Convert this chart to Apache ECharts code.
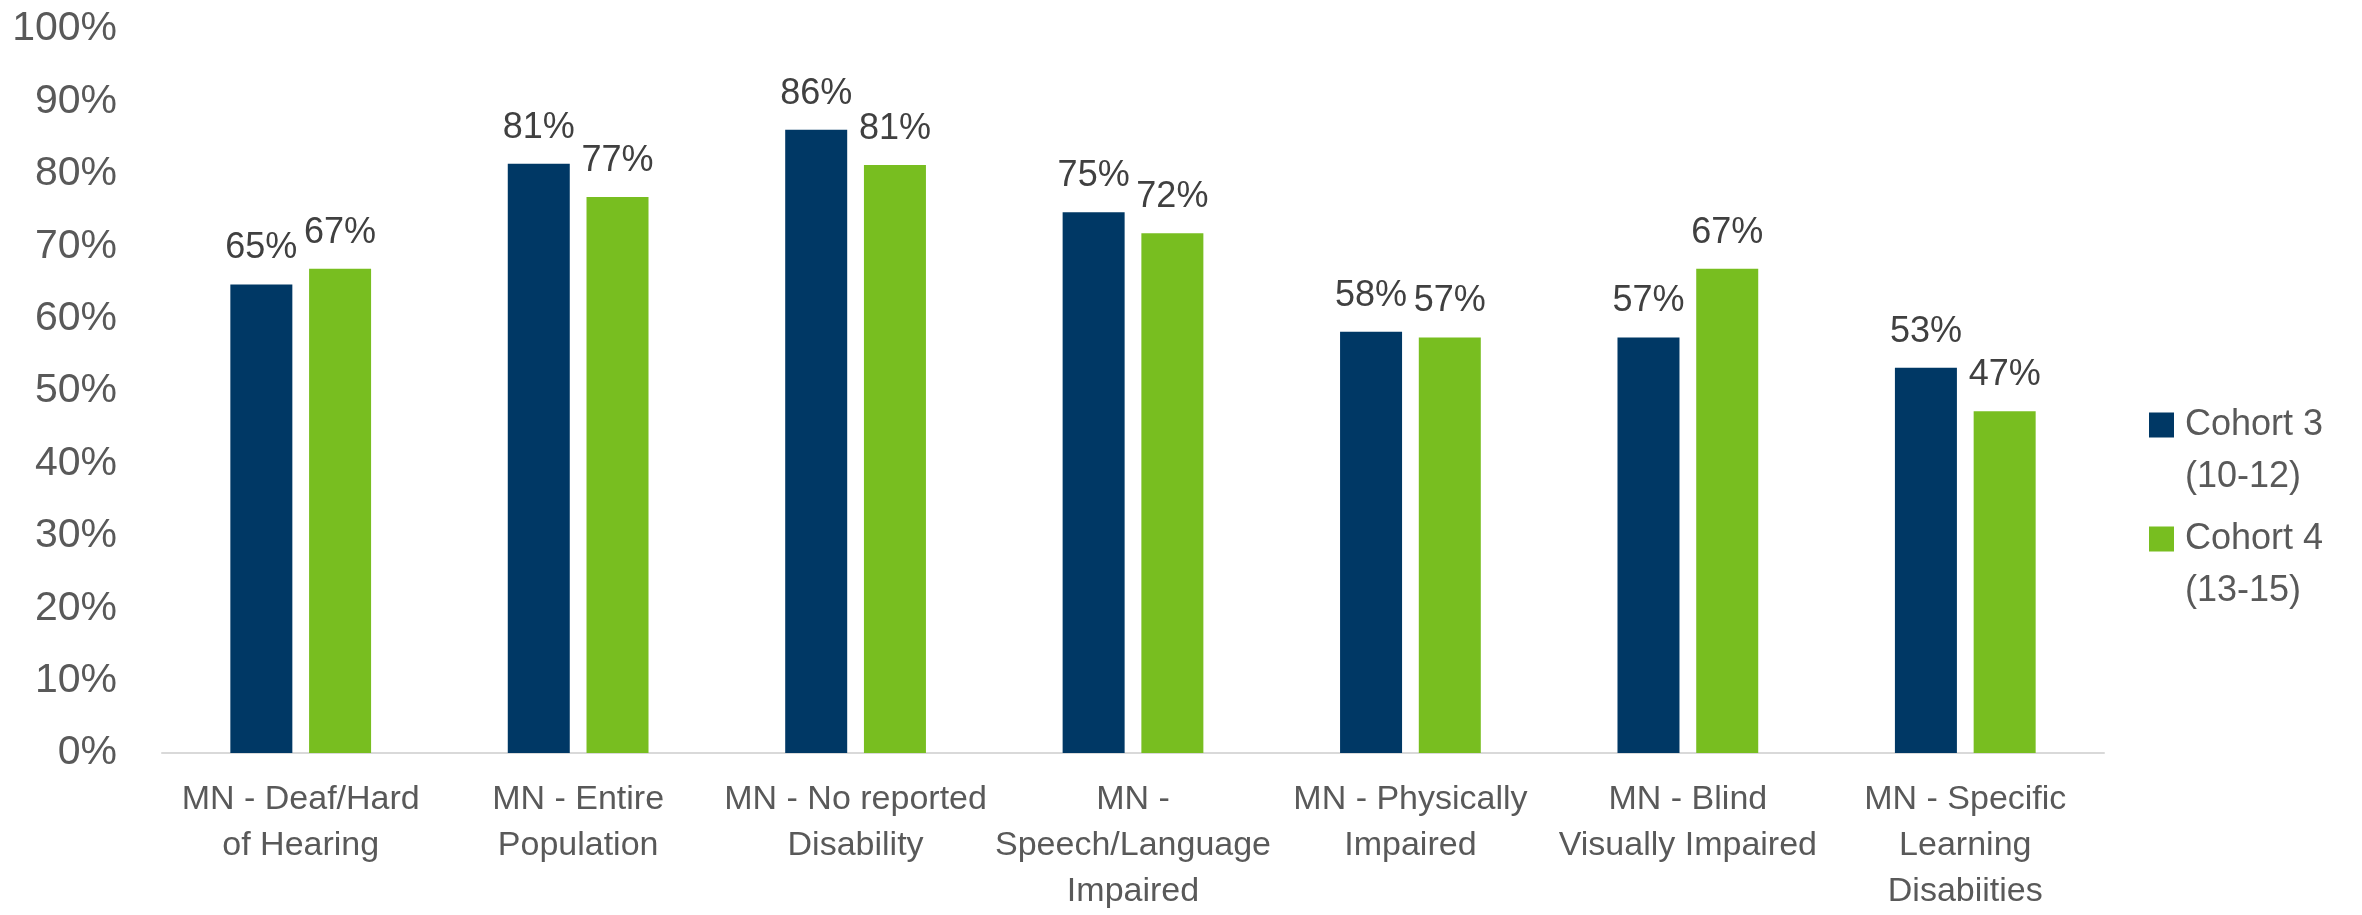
<!DOCTYPE html>
<html>
<head>
<meta charset="utf-8">
<script src="https://cdn.jsdelivr.net/npm/echarts@6/dist/echarts.min.js"></script>
<style>
  html, body { margin: 0; padding: 0; background: #ffffff; }
  #chart { width: 2362px; height: 915px; }
</style>
</head>
<body>
<div id="chart"></div>
<script>
// ---- Data ----
const categories = [
  'MN - Deaf/Hard\nof Hearing',
  'MN - Entire\nPopulation',
  'MN - No reported\nDisability',
  'MN -\nSpeech/Language\nImpaired',
  'MN - Physically\nImpaired',
  'MN - Blind\nVisually Impaired',
  'MN - Specific\nLearning\nDisabiities'
];
const seriesNames = ['Cohort 3 (10-12)', 'Cohort 4 (13-15)'];
const cohort3 = [64.7, 81.4, 86.1, 74.7, 58.2, 57.4, 53.2];
const cohort4 = [66.9, 76.8, 81.2, 71.8, 57.4, 66.9, 47.2];
const yTicks = { min: 0, max: 100, interval: 10 };

// ---- Styles ----
const FONT = 'Liberation Sans';
const colors = ['#003865', '#78BE20'];
// legend marker: square on first text line, with invisible corner points to fix the icon box
const legendIcon = 'path://M0,0h0.05v0.05h-0.05z M0,13.5h25v25h-25z M30.95,103.95h0.05v0.05h-0.05z';

const chart = echarts.init(document.getElementById('chart'), null, { renderer: 'canvas' });

function barSeries(name, data, color) {
  return {
    name: name,
    type: 'bar',
    data: data,
    barWidth: 62,
    barGap: '27%',
    itemStyle: { color: color },
    label: {
      show: true,
      position: 'top',
      distance: 18,
      color: '#404040',
      fontFamily: FONT,
      fontSize: 36,
      formatter: p => Math.round(p.value) + '%'
    }
  };
}

chart.setOption({
  animation: false,
  backgroundColor: '#ffffff',
  grid: { left: 162, right: 258, top: 29, bottom: 157, containLabel: false },
  xAxis: {
    type: 'category',
    data: categories,
    axisLine: { show: true, lineStyle: { color: '#D9D9D9', width: 2 } },
    axisTick: { show: false },
    axisLabel: {
      color: '#595959',
      fontFamily: FONT,
      fontSize: 34,
      lineHeight: 46,
      margin: 24,
      interval: 0
    }
  },
  yAxis: {
    type: 'value',
    min: yTicks.min,
    max: yTicks.max,
    interval: yTicks.interval,
    axisLine: { show: false },
    axisTick: { show: false },
    splitLine: { show: false },
    axisLabel: {
      color: '#595959',
      fontFamily: FONT,
      fontSize: 41,
      margin: 45,
      formatter: '{value}%'
    }
  },
  legend: {
    orient: 'vertical',
    left: 2149,
    top: 399,
    padding: 0,
    itemWidth: 31,
    itemHeight: 104,
    itemGap: 10,
    icon: legendIcon,
    data: seriesNames,
    formatter: name => name.replace(' (', '\n('),
    textStyle: {
      color: '#595959',
      fontFamily: FONT,
      fontSize: 36,
      lineHeight: 52
    }
  },
  series: [
    barSeries(seriesNames[0], cohort3, colors[0]),
    barSeries(seriesNames[1], cohort4, colors[1])
  ]
});
</script>
</body>
</html>
